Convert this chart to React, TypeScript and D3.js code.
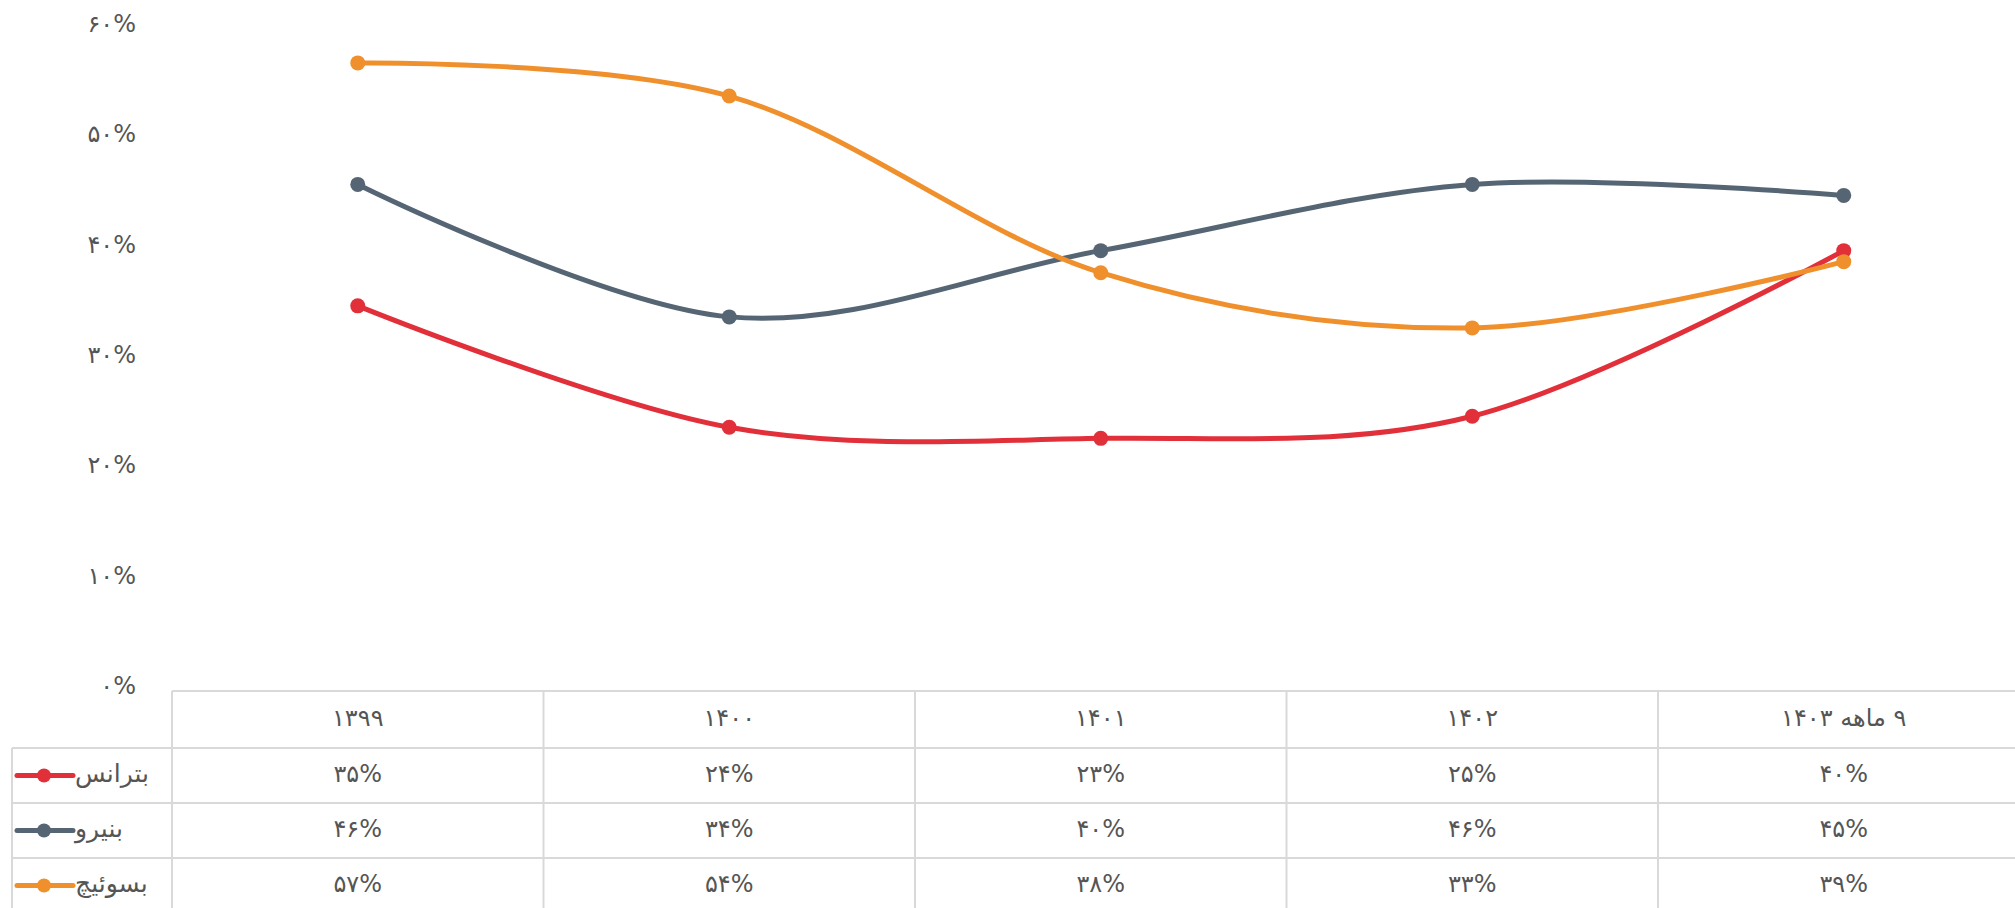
import React from "react";
import * as d3 from "d3";

const categories = ["۱۳۹۹", "۱۴۰۰", "۱۴۰۱", "۱۴۰۲", "۹ ماهه ۱۴۰۳"];
const seriesNames = ["بترانس", "بنیرو", "بسوئیچ"];
const seriesColors = ["#E1303A", "#566574", "#F0902C"];
const betrans = [35, 24, 23, 25, 40];
const bniroo = [46, 34, 40, 46, 45];
const bswitch = [57, 54, 38, 33, 39];
const yTicks = [0, 10, 20, 30, 40, 50, 60];

const seriesValues = [betrans, bniroo, bswitch];

const faDigits = "۰۱۲۳۴۵۶۷۸۹";
const toFa = (n: number) => String(n).replace(/\d/g, (d) => faDigits[+d]);

const W = 2015;
const H = 908;
const FONT = "'DejaVu Sans', sans-serif";
const TEXT = "#555555";
const GRID = "#D9D9D9";

export default function App() {
  const tableLeft = 172;
  const colW = 371.5;
  const x = d3
    .scaleBand<string>()
    .domain(categories)
    .range([tableLeft, tableLeft + colW * categories.length])
    .paddingInner(0)
    .paddingOuter(0);
  const y = d3.scaleLinear().domain([0, 60]).range([692.3, 29.8]);

  const line = d3
    .line<number>()
    .x((_, i) => (x(categories[i]) as number) + x.bandwidth() / 2)
    .y((d) => y(d))
    .curve(d3.curveCardinal.tension(0));

  const tableTop = 691;
  const rowBounds = [748, 803, 858, 913];
  const legendLeft = 12;
  const tableRight = tableLeft + colW * categories.length;

  return (
    <svg
      width={W}
      height={H}
      style={{ position: "absolute", left: 0, top: 0, background: "#fff" }}
      fontFamily={FONT}
    >
      <rect x={0} y={0} width={W} height={H} fill="#fff" />
      {/* y axis labels */}
      {yTicks.map((t) => (
        <text
          key={t}
          x={136}
          y={y(t) - 6}
          textAnchor="end"
          dominantBaseline="central"
          fontSize={24}
          fill={TEXT}
        >
          {toFa(t) + "%"}
        </text>
      ))}

      {/* table grid */}
      <g stroke={GRID} strokeWidth={2} fill="none">
        <line x1={tableLeft} x2={tableRight} y1={tableTop} y2={tableTop} />
        {rowBounds.slice(0, 3).map((rb) => (
          <line key={rb} x1={legendLeft} x2={tableRight} y1={rb} y2={rb} />
        ))}
        <line x1={legendLeft} x2={legendLeft} y1={rowBounds[0]} y2={rowBounds[3]} />
        {categories.map((c) => (
          <line
            key={c}
            x1={x(c) as number}
            x2={x(c) as number}
            y1={tableTop}
            y2={rowBounds[3]}
          />
        ))}
      </g>

      {/* header labels */}
      {categories.map((c) => (
        <text
          key={c}
          x={(x(c) as number) + x.bandwidth() / 2}
          y={(tableTop + rowBounds[0]) / 2 - 2}
          textAnchor="middle"
          dominantBaseline="central"
          fontSize={24}
          fill={TEXT}
          style={{ direction: "rtl", unicodeBidi: "embed" }}
        >
          {c}
        </text>
      ))}

      {/* value rows */}
      {seriesValues.map((vals, si) => {
        const top = rowBounds[si];
        const bottom = top + 55;
        const cy = (top + bottom) / 2 - 2;
        return (
          <g key={si}>
            <line
              x1={17}
              x2={73}
              y1={cy + 2}
              y2={cy + 2}
              stroke={seriesColors[si]}
              strokeWidth={5}
              strokeLinecap="round"
            />
            <circle cx={44} cy={cy + 2} r={7} fill={seriesColors[si]} />
            <text
              x={75}
              y={cy}
              textAnchor="start"
              dominantBaseline="central"
              fontSize={25}
              fill={TEXT}
            >
              {seriesNames[si]}
            </text>
            {vals.map((v, i) => (
              <text
                key={i}
                x={(x(categories[i]) as number) + x.bandwidth() / 2}
                y={cy}
                textAnchor="middle"
                dominantBaseline="central"
                fontSize={24}
                fill={TEXT}
              >
                {toFa(v) + "%"}
              </text>
            ))}
          </g>
        );
      })}

      {/* lines */}
      {seriesValues.map((vals, si) => (
        <g key={si}>
          <path
            d={line(vals) as string}
            fill="none"
            stroke={seriesColors[si]}
            strokeWidth={5}
            strokeLinecap="round"
          />
          {vals.map((v, i) => (
            <circle
              key={i}
              cx={(x(categories[i]) as number) + x.bandwidth() / 2}
              cy={y(v)}
              r={7.5}
              fill={seriesColors[si]}
            />
          ))}
        </g>
      ))}
    </svg>
  );
}
